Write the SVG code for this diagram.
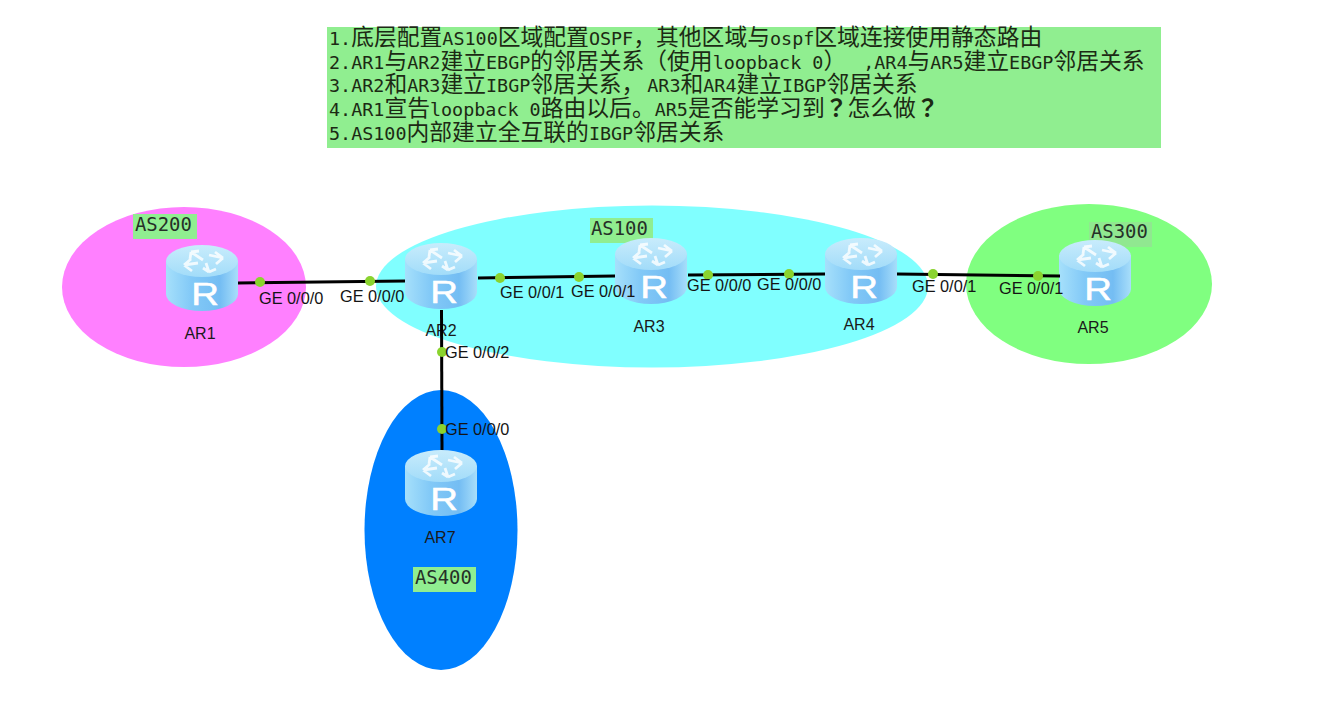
<svg xmlns="http://www.w3.org/2000/svg" xmlns:xlink="http://www.w3.org/1999/xlink" width="1337" height="702" viewBox="0 0 1337 702">
<style>
.m{font-family:"DejaVu Sans Mono","Liberation Mono","Noto Sans CJK SC",monospace;font-size:18.4px;fill:#1c2a14}
.c{font-family:"Noto Sans CJK SC","DejaVu Sans",sans-serif;font-size:22.8px}
.q{font-family:"Noto Sans CJK TC","DejaVu Sans",sans-serif;font-size:22.8px;font-weight:700}
.as{font-family:"DejaVu Sans Mono","Liberation Mono",monospace;font-size:18.9px;fill:#263028}
.l{font-family:"Liberation Sans",Arial,sans-serif;font-size:16.3px;fill:#141414}
.n{font-family:"Liberation Sans",Arial,sans-serif;font-size:16px;fill:#1a1a1a;text-anchor:middle}
.r{font-family:"Liberation Sans",Arial,sans-serif;font-size:32px;fill:#fff;stroke:#fff;stroke-width:.5;text-anchor:middle}
.w{stroke:#000;stroke-width:3;fill:none}
.d{fill:#8ad32e}
.b{fill:#90ee90}
.i{fill:none;stroke:#fff;stroke-width:2.8;opacity:.8}
</style>
<defs>
<linearGradient id="body" x1="0" x2="1" y1="0" y2="0">
<stop offset="0" stop-color="#a6e0fb"/><stop offset=".35" stop-color="#82c9f7"/><stop offset=".75" stop-color="#74bdf3"/><stop offset="1" stop-color="#a8defa"/>
</linearGradient>
<linearGradient id="top" x1="0" x2="0" y1="0" y2="1">
<stop offset="0" stop-color="#c8ecfc"/><stop offset="1" stop-color="#a2dcf9"/>
</linearGradient>
<g id="router">
<path d="M-36 16V49A36 17 0 0 0 36 49V16Z" fill="url(#body)"/>
<ellipse cx="0" cy="16" rx="36" ry="16" fill="url(#top)"/>
<path class="i" d="M1 15L-11 7M-11 7L-3 6M-11 7L-12 14M7 10L21 13M21 13L13 7M21 13L14 19M4 18L7 27M7 27L14 24M7 27L1 23M-4 18L-18 20M-18 20L-11 14M-18 20L-10 26"/>
<text class="r" transform="translate(3 60) scale(1.2 1)">R</text>
</g>
</defs>
<g id="zones">
<ellipse cx="184" cy="287" rx="122" ry="80" fill="#ff80ff"/>
<ellipse cx="652" cy="286.500" rx="276" ry="81" fill="#80ffff"/>
<ellipse cx="1089" cy="284" rx="123" ry="80" fill="#80ff80"/>
<ellipse cx="441" cy="530" rx="76.500" ry="140" fill="#0080ff"/>
</g>
<g id="notes">
<rect class="b" x="327" y="27" width="834" height="121"/>
<text class="m" x="329" y="45">1.<tspan class="c">底层配置</tspan>AS100<tspan class="c">区域配置</tspan>OSPF<tspan class="c">，其他区域与</tspan>ospf<tspan class="c">区域连接使用静态路由</tspan></text>
<text class="m" x="329" y="69">2.AR1<tspan class="c">与</tspan>AR2<tspan class="c">建立</tspan>EBGP<tspan class="c">的邻居关系（使用</tspan>loopback 0<tspan class="c">）</tspan><tspan dx="17">,AR4</tspan><tspan class="c">与</tspan>AR5<tspan class="c">建立</tspan>EBGP<tspan class="c">邻居关系</tspan></text>
<text class="m" x="329" y="92">3.AR2<tspan class="c">和</tspan>AR3<tspan class="c">建立</tspan>IBGP<tspan class="c">邻居关系，</tspan><tspan dx="3">AR3</tspan><tspan class="c">和</tspan>AR4<tspan class="c">建立</tspan>IBGP<tspan class="c">邻居关系</tspan></text>
<text class="m" x="329" y="116">4.AR1<tspan class="c">宣告</tspan>loopback 0<tspan class="c">路由以后。</tspan>AR5<tspan class="c">是否能学习到</tspan><tspan class="q">？</tspan><tspan class="c">怎么做</tspan><tspan class="q">？</tspan></text>
<text class="m" x="329" y="140">5.AS100<tspan class="c">内部建立全互联的</tspan>IBGP<tspan class="c">邻居关系</tspan></text>
</g>
<g id="as200"><rect class="b" x="133" y="214" width="64" height="25"/><text class="as" x="135" y="231">AS200</text></g>
<g id="as100"><rect class="b" x="590" y="218" width="63" height="25"/><text class="as" x="591" y="235">AS100</text></g>
<g id="as300"><rect x="1089" y="222" width="63" height="25" fill="#90e890"/><text class="as" x="1091" y="238">AS300</text></g>
<g id="as400"><rect class="b" x="413" y="567" width="63" height="25"/><text class="as" x="415" y="584">AS400</text></g>
<g id="AR1"><use xlink:href="#router" href="#router" transform="translate(202 245)"/><text class="n" x="200" y="339">AR1</text></g>
<g id="AR2"><use xlink:href="#router" href="#router" transform="translate(441 243)"/><text class="n" x="441" y="336">AR2</text></g>
<g id="AR3"><use xlink:href="#router" href="#router" transform="translate(651 238)"/><text class="n" x="649" y="332">AR3</text></g>
<g id="AR4"><use xlink:href="#router" href="#router" transform="translate(861 238)"/><text class="n" x="859" y="330">AR4</text></g>
<g id="AR5"><use xlink:href="#router" href="#router" transform="translate(1095 240)"/><text class="n" x="1093" y="333">AR5</text></g>
<g id="AR7"><use xlink:href="#router" href="#router" transform="translate(441 450)"/><text class="n" x="440" y="543">AR7</text></g>
<g id="connectors">
<path class="w" d="M238 283L405 281"/>
<path class="w" d="M478 278L615 276"/>
<path class="w" d="M688 275L825 274"/>
<path class="w" d="M897 274L1060 276"/>
<path class="w" d="M441.500 310L442 450"/>
<circle class="d" cx="260" cy="282" r="5"/><circle class="d" cx="370" cy="281" r="5"/>
<circle class="d" cx="500" cy="278" r="5"/><circle class="d" cx="579" cy="277" r="5"/>
<circle class="d" cx="708" cy="275" r="5"/><circle class="d" cx="789" cy="274" r="5"/>
<circle class="d" cx="933" cy="274" r="5"/><circle class="d" cx="1038" cy="276" r="5"/>
<circle class="d" cx="442" cy="352" r="5"/><circle class="d" cx="442" cy="429" r="5"/>
<text class="l" x="259" y="304">GE 0/0/0</text><text class="l" x="340" y="302">GE 0/0/0</text>
<text class="l" x="500" y="298">GE 0/0/1</text><text class="l" x="571" y="297">GE 0/0/1</text>
<text class="l" x="687" y="291">GE 0/0/0</text><text class="l" x="757" y="290">GE 0/0/0</text>
<text class="l" x="912" y="292">GE 0/0/1</text><text class="l" x="999" y="294">GE 0/0/1</text>
<text class="l" x="445" y="358">GE 0/0/2</text><text class="l" x="445" y="435">GE 0/0/0</text>
</g>
</svg>
